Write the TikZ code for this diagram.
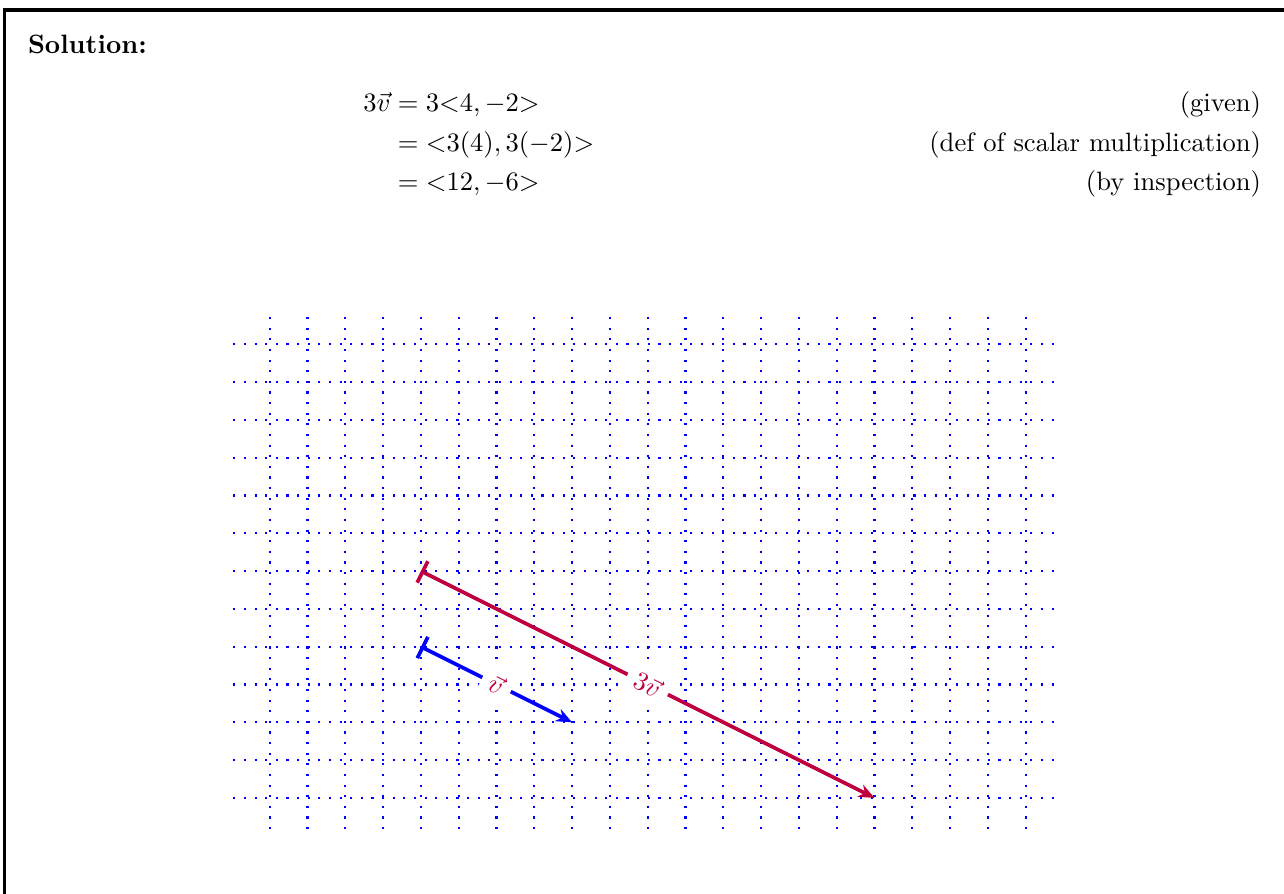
\documentclass[tikz,border=0pt]{standalone}
\usetikzlibrary{arrows.meta}
\begin{document}
\begin{tikzpicture}[x=0.0132275cm,y=-0.0132275cm,
  txt/.style={inner sep=0pt,outer sep=0pt},
  gridline/.style={blue,line width=0.8pt,dash pattern=on 0.8pt off 3.2pt},
  vecline/.style={line width=1.4pt,{Bar[width=9pt,line width=1.4pt]}-{Stealth[length=6pt,width=5pt]}},
  veclabel/.style={midway,sloped,fill=white,text=purple}]
\useasboundingbox (0,0) rectangle (1284,894);
\draw[line width=1.2pt,line join=miter] (4.5,894) -- (4.5,10) -- (1284,10);
\node[txt,anchor=base west] (sol) at (28,53) {\textbf{Solution:}};
\node[txt,anchor=base east] (l1a) at (390.5,111.5) {$3\vec v$};
\node[txt,anchor=base west] (l1b) at (390.5,111.5) {${}=3{<}4,-2{>}$};
\node[txt,anchor=base west] (l2b) at (390.5,151) {${}={<}3(4),3(-2){>}$};
\node[txt,anchor=base west] (l3b) at (390.5,190.5) {${}={<}12,-6{>}$};
\node[txt,anchor=base east] (t1) at (1261,111.5) {(given)};
\node[txt,anchor=base east] (t2) at (1261,151) {(def of scalar multiplication)};
\node[txt,anchor=base east] (t3) at (1261,190.5) {(by inspection)};
\foreach \i in {0,...,20} \draw[gridline] ({269.7+37.8*\i},317) -- ({269.7+37.8*\i},835);
\foreach \j in {0,...,12} \draw[gridline] (233.3,{344.3+37.8*\j}) -- (1054,{344.3+37.8*\j});
\coordinate (A) at (420.9,571.1);
\coordinate (B) at (874.5,797.9);
\coordinate (C) at (420.9,646.7);
\coordinate (D) at (572.1,722.3);
\draw[vecline,purple] (A) -- (B) node[veclabel] (lbl3v) {$3\vec v$};
\draw[vecline,blue] (C) -- (D) node[veclabel] (lblv) {$\vec v$};
\end{tikzpicture}
\end{document}
